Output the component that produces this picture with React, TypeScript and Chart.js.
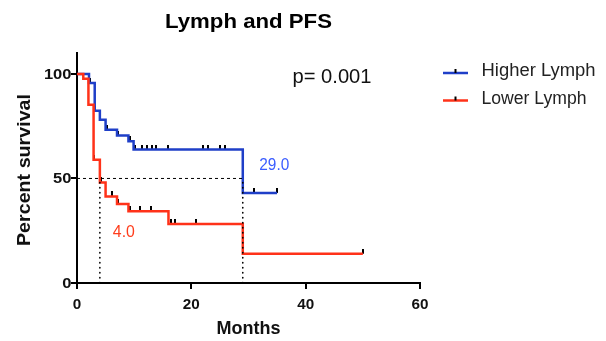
import React, { useEffect, useRef } from "react";
import { Chart, registerables } from "chart.js";
Chart.register(...registerables);

const highTimes = [0, 2.1, 3.1, 4.0, 5.0, 7.0, 9.0, 9.9, 29.0, 35.0];
const highSurv = [100, 95.7, 82.4, 78.1, 73.3, 70.5, 67.8, 63.8, 43.1, 43.1];
const highCensor = [2.2, 3.2, 4.1, 5.2, 7.1, 9.2, 10.1, 11.3, 12.2, 13.1, 13.9, 16.0, 22.1, 22.9, 25.0, 25.9, 31.0, 35.0];

const lowTimes = [0, 1.1, 2.0, 2.9, 4.0, 5.0, 7.0, 9.0, 16.0, 29.0, 50.0];
const lowSurv = [100, 97.7, 85.3, 59.0, 48.1, 41.4, 37.8, 34.3, 28.2, 14.0, 14.0];
const lowCensor = [3.0, 4.2, 6.1, 7.2, 9.3, 11.0, 13.0, 16.4, 17.2, 20.9, 50.0];

const medians = [29.0, 4.0];
const medianLabels = ["29.0", "4.0"];
const xTicks = [0, 20, 40, 60];
const yTicks = [0, 50, 100];
const seriesNames = ["Higher Lymph", "Lower Lymph"];
const pText = "p= 0.001";

const BLUE = "#1f3fc8";
const RED = "#ff3219";
const FONT = "'Liberation Sans', Arial, sans-serif";

function stepVal(times: number[], surv: number[], t: number) {
  let v = surv[0];
  for (let i = 0; i < times.length; i++) if (times[i] <= t) v = surv[i];
  return v;
}

function makeTick() {
  const c = document.createElement("canvas");
  c.width = 2;
  c.height = 10;
  const g = c.getContext("2d")!;
  g.fillStyle = "#000";
  g.fillRect(0, 0, 2, 5);
  return c;
}

function drawText(ctx: any, text: string, x: number, y: number, font: string, sx: number, align: string, color: string) {
  ctx.save();
  ctx.font = font;
  ctx.fillStyle = color;
  ctx.textAlign = align;
  ctx.textBaseline = "alphabetic";
  ctx.translate(x, y);
  ctx.scale(sx, 1);
  ctx.fillText(text, 0, 0);
  ctx.restore();
}

function fitScale(ctx: any, text: string, font: string, width: number) {
  ctx.save();
  ctx.font = font;
  const w = ctx.measureText(text).width;
  ctx.restore();
  return width / w;
}

export default function App() {
  const ref = useRef<HTMLCanvasElement>(null);
  useEffect(() => {
    document.body.style.margin = "0";
    const tick = makeTick();
    const pts = (t: number[], s: number[]) => t.map((x, i) => ({ x, y: s[i] }));
    const cens = (c: number[], t: number[], s: number[]) => c.map((x) => ({ x, y: stepVal(t, s, x) }));

    const overlay = {
      id: "overlay",
      afterDraw(chart: any) {
        const ctx = chart.ctx;
        const xs = chart.scales.x;
        const ys = chart.scales.y;
        const ca = chart.chartArea;
        const cx = (ca.left + ca.right) / 2;
        let f = `bold 19.5px ${FONT}`;
        drawText(ctx, "Lymph and PFS", cx, 27.5, f, fitScale(ctx, "Lymph and PFS", f, 167), "center", "#000");
        f = `bold 18.5px ${FONT}`;
        drawText(ctx, "Months", cx, 333.5, f, fitScale(ctx, "Months", f, 64), "center", "#111");
        f = `bold 19px ${FONT}`;
        const sy = fitScale(ctx, "Percent survival", f, 152);
        ctx.save();
        ctx.translate(29.5, 170);
        ctx.rotate(-Math.PI / 2);
        drawText(ctx, "Percent survival", 0, 0, f, sy, "center", "#111");
        ctx.restore();
        f = `bold 14px ${FONT}`;
        xTicks.forEach((v) => {
          drawText(ctx, String(v), xs.getPixelForValue(v), 308.5, f, 1.09, "center", "#111");
        });
        yTicks.forEach((v) => {
          drawText(ctx, String(v), 71.5, ys.getPixelForValue(v) + 5, f, 1.18, "right", "#111");
        });
        f = `20px ${FONT}`;
        drawText(ctx, pText, 292.5, 83.3, f, fitScale(ctx, pText, f, 79), "left", "#111");
        f = `16px ${FONT}`;
        drawText(ctx, medianLabels[0], xs.getPixelForValue(medians[0]) + 16.5, 170, f, fitScale(ctx, medianLabels[0], f, 30), "left", "#3a5cff");
        drawText(ctx, medianLabels[1], xs.getPixelForValue(medians[1]) + 13, 236.7, f, fitScale(ctx, medianLabels[1], f, 22), "left", "#ff3d1c");
        const cols = [BLUE, RED];
        const widths = [114, 105];
        f = `17.5px ${FONT}`;
        seriesNames.forEach((n, i) => {
          const base = 76 + i * 27.5;
          const ly = base - 3;
          ctx.save();
          ctx.strokeStyle = cols[i];
          ctx.lineWidth = 2.5;
          ctx.beginPath();
          ctx.moveTo(443, ly);
          ctx.lineTo(468, ly);
          ctx.stroke();
          ctx.fillStyle = "#000";
          ctx.fillRect(454.5, ly - 4, 2, 4);
          ctx.restore();
          drawText(ctx, n, 481.5, base, f, fitScale(ctx, n, f, widths[i]), "left", "#222");
        });
      },
    };

    const chart = new Chart(ref.current!, {
      type: "line",
      data: {
        datasets: [
          {
            data: [{ x: 0, y: 50 }, { x: medians[0], y: 50 }],
            borderColor: "#000",
            borderWidth: 1,
            borderDash: [3, 3],
            pointRadius: 0,
          },
          {
            data: [{ x: medians[0], y: 0 }, { x: medians[0], y: 50 }],
            borderColor: "#000",
            borderWidth: 1.6,
            borderDash: [0.5, 4.5],
            borderCapStyle: "round",
            pointRadius: 0,
          },
          {
            data: [{ x: medians[1], y: 0 }, { x: medians[1], y: 50 }],
            borderColor: "#000",
            borderWidth: 1.6,
            borderDash: [0.5, 4.5],
            borderCapStyle: "round",
            pointRadius: 0,
          },
          {
            data: pts(lowTimes, lowSurv),
            borderColor: RED,
            borderWidth: 2.5,
            stepped: "before",
            pointRadius: 0,
          },
          {
            data: pts(highTimes, highSurv),
            borderColor: BLUE,
            borderWidth: 2.5,
            stepped: "before",
            pointRadius: 0,
          },
          {
            data: cens(lowCensor, lowTimes, lowSurv),
            showLine: false,
            pointStyle: tick as any,
            pointRadius: 3,
          },
          {
            data: cens(highCensor, highTimes, highSurv),
            showLine: false,
            pointStyle: tick as any,
            pointRadius: 3,
          },
        ] as any,
      },
      options: {
        animation: false,
        responsive: false,
        maintainAspectRatio: false,
        layout: { padding: { top: 53, right: 186, left: 0, bottom: 0 } },
        plugins: { legend: { display: false }, tooltip: { enabled: false }, title: { display: false } },
        scales: {
          x: {
            type: "linear",
            min: 0,
            max: 60,
            afterBuildTicks: (s: any) => {
              s.ticks = xTicks.map((v) => ({ value: v }));
            },
            afterFit: (s: any) => {
              s.height = 58;
            },
            ticks: { display: false },
            grid: { drawOnChartArea: false, drawTicks: true, tickLength: 6, color: "#000", lineWidth: 2 },
            border: { display: true, color: "#000", width: 2 },
          },
          y: {
            type: "linear",
            min: 0,
            max: 110,
            afterBuildTicks: (s: any) => {
              s.ticks = yTicks.map((v) => ({ value: v }));
            },
            afterFit: (s: any) => {
              s.width = 77;
            },
            ticks: { display: false },
            grid: { drawOnChartArea: false, drawTicks: true, tickLength: 6, color: "#000", lineWidth: 2 },
            border: { display: true, color: "#000", width: 2 },
          },
        },
      } as any,
      plugins: [overlay],
    });
    return () => chart.destroy();
  }, []);
  return (
    <div style={{ position: "absolute", left: 0, top: 0, width: 606, height: 341, background: "#fff" }}>
      <canvas ref={ref} width={606} height={341} style={{ width: 606, height: 341 }} />
    </div>
  );
}
